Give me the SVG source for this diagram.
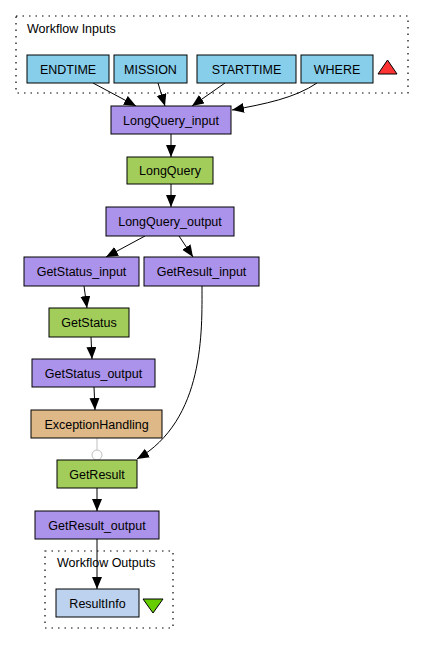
<svg xmlns="http://www.w3.org/2000/svg" width="424" height="645" viewBox="0 0 424 645">
<style>
.n{stroke:#000;stroke-width:1}
.t{font-family:"Liberation Sans",Arial,sans-serif;font-size:12.5px;text-anchor:middle;fill:#000}
.l{font-family:"Liberation Sans",Arial,sans-serif;font-size:12.5px;text-anchor:start;fill:#000}
.c{fill:none;stroke:#000;stroke-width:1.2;stroke-dasharray:1.5,5}
.e{fill:none;stroke:#000;stroke-width:1}
.in{fill:#87ceeb}.pu{fill:#ab92ea}.gr{fill:#a2cd5a}.bu{fill:#deb887}.ou{fill:#bcd2ee}
</style>
<defs>
<marker id="a" markerUnits="userSpaceOnUse" markerWidth="14" markerHeight="12" refX="12" refY="5" orient="auto">
<path d="M0,0 L12,5 L0,10 Z" fill="#000"/>
</marker>
</defs>
<rect width="424" height="645" fill="#fff"/>
<g id="cluster_inputs">
<rect class="c" x="16" y="16" width="392" height="77"/>
<text class="l" x="27" y="33">Workflow Inputs</text>
</g>
<g id="cluster_outputs">
<rect class="c" x="45" y="551" width="128" height="77"/>
<text class="l" x="57" y="567">Workflow Outputs</text>
</g>
<g id="connectors">
<path class="e" d="M93,83 L136,106" marker-end="url(#a)"/>
<path class="e" d="M158,83 L165,106" marker-end="url(#a)"/>
<path class="e" d="M225,83 L192,106" marker-end="url(#a)"/>
<path class="e" d="M317,83 C295,98 265,104 232,110" marker-end="url(#a)"/>
<path class="e" d="M171,134 L171,157" marker-end="url(#a)"/>
<path class="e" d="M171,184 L171,207" marker-end="url(#a)"/>
<path class="e" d="M145,236 L106,257" marker-end="url(#a)"/>
<path class="e" d="M179,236 L193,257" marker-end="url(#a)"/>
<path class="e" d="M84,286 L87,308" marker-end="url(#a)"/>
<path class="e" d="M91,337 L92,359" marker-end="url(#a)"/>
<path class="e" d="M94,387 L95,410" marker-end="url(#a)"/>
<path d="M97,438 L97,450" fill="none" stroke="#c0c0c0" stroke-width="1"/>
<circle cx="97" cy="455" r="5" fill="#fff" stroke="#c0c0c0" stroke-width="1"/>
<path class="e" d="M202,286 C202,330 205,420 137,459" marker-end="url(#a)"/>
<path class="e" d="M97,488 L97,511" marker-end="url(#a)"/>
<path class="e" d="M97,539 L97,589" marker-end="url(#a)"/>
</g>
<g id="ENDTIME"><rect class="n in" x="27" y="55" width="82" height="28"/><text class="t" x="68" y="73.5">ENDTIME</text></g>
<g id="MISSION"><rect class="n in" x="114" y="55" width="73" height="28"/><text class="t" x="150.5" y="73.5">MISSION</text></g>
<g id="STARTTIME"><rect class="n in" x="197" y="55" width="99" height="28"/><text class="t" x="246.5" y="73.5">STARTTIME</text></g>
<g id="WHERE"><rect class="n in" x="301" y="55" width="72" height="28"/><text class="t" x="337" y="73.5">WHERE</text></g>
<g id="inputs_marker"><polygon points="387.5,60 397,74 378,74" fill="#ff3333" stroke="#000" stroke-width="1"/></g>
<g id="LongQuery_input"><rect class="n pu" x="111" y="106" width="120" height="28"/><text class="t" x="171" y="124.5">LongQuery_input</text></g>
<g id="LongQuery"><rect class="n gr" x="127" y="157" width="86" height="27"/><text class="t" x="170" y="175">LongQuery</text></g>
<g id="LongQuery_output"><rect class="n pu" x="106" y="207" width="128" height="29"/><text class="t" x="170" y="226">LongQuery_output</text></g>
<g id="GetStatus_input"><rect class="n pu" x="24" y="257" width="115" height="29"/><text class="t" x="81.5" y="276">GetStatus_input</text></g>
<g id="GetResult_input"><rect class="n pu" x="144" y="257" width="115" height="29"/><text class="t" x="201.5" y="276">GetResult_input</text></g>
<g id="GetStatus"><rect class="n gr" x="49" y="308" width="80" height="29"/><text class="t" x="89" y="327">GetStatus</text></g>
<g id="GetStatus_output"><rect class="n pu" x="32" y="359" width="123" height="28"/><text class="t" x="93.5" y="377.5">GetStatus_output</text></g>
<g id="ExceptionHandling"><rect class="n bu" x="31" y="410" width="131" height="28"/><text class="t" x="96.5" y="428.5">ExceptionHandling</text></g>
<g id="GetResult"><rect class="n gr" x="57" y="460" width="80" height="28"/><text class="t" x="97" y="478.5">GetResult</text></g>
<g id="GetResult_output"><rect class="n pu" x="35" y="511" width="124" height="28"/><text class="t" x="97" y="529.5">GetResult_output</text></g>
<g id="ResultInfo"><rect class="n ou" x="56" y="589" width="83" height="28"/><text class="t" x="97.5" y="607.5">ResultInfo</text></g>
<g id="outputs_marker"><polygon points="143,599 163,599 153,613" fill="#66cd00" stroke="#000" stroke-width="1"/></g>
</svg>
